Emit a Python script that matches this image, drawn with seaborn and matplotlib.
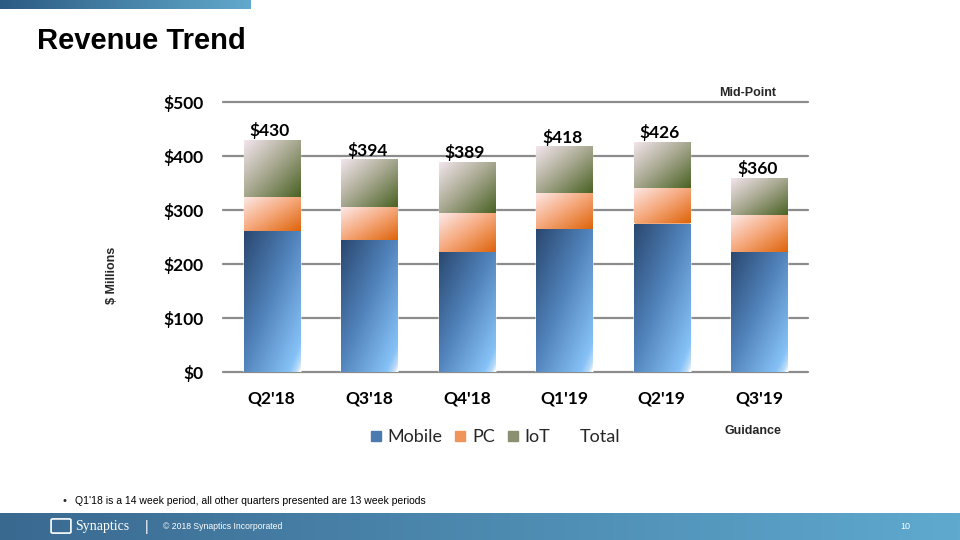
import numpy as np
import matplotlib
matplotlib.use("Agg")
import matplotlib.pyplot as plt
import seaborn as sns
from matplotlib.colors import LinearSegmentedColormap
from matplotlib.lines import Line2D
from matplotlib.patches import FancyBboxPatch

# ---------------- data ----------------
quarters = ["Q2'18", "Q3'18", "Q4'18", "Q1'19", "Q2'19", "Q3'19"]
mobile = [261, 245, 223, 264, 275, 223]
pc = [63, 60, 71, 68, 65, 68]
iot = [106, 89, 95, 86, 86, 69]
totals = [430, 394, 389, 418, 426, 360]
total_labels = ["$430", "$394", "$389", "$418", "$426", "$360"]
yticks = [0, 100, 200, 300, 400, 500]
ytick_labels = ["$0", "$100", "$200", "$300", "$400", "$500"]
legend_labels = ["Mobile", "PC", "IoT", "Total"]

sns.set_theme(style="white")
plt.rcParams["font.family"] = ["Lato", "DejaVu Sans"]

ARIAL = ["Liberation Sans", "DejaVu Sans"]

fig = plt.figure(figsize=(9.6, 5.4), dpi=100)
fig.patch.set_facecolor("white")


def hgrad_axes(rect, c0, c1):
    a = fig.add_axes(rect)
    g = np.linspace(0, 1, 256)[None, :]
    cm = LinearSegmentedColormap.from_list("b", [c0, c1])
    a.imshow(cm(g), aspect="auto", extent=(0, 1, 0, 1), interpolation="bilinear")
    a.set_axis_off()
    return a


# top banner and footer
hgrad_axes([0, 1 - 9 / 540, 250 / 960, 9 / 540], "#2c5b82", "#62a9cd")
hgrad_axes([0, 0, 1, 27 / 540], "#3a6990", "#5fa9cf")

# ---------------- main chart ----------------
ax = fig.add_axes([223 / 960, 1 - 372 / 540, 585 / 960, 270 / 540])

mp = [m + p for m, p in zip(mobile, pc)]
W = 0.575
sns.barplot(x=quarters, y=totals, color="#8a9070", width=W, saturation=1, ax=ax, zorder=2)
sns.barplot(x=quarters, y=mp, color="#f0955a", width=W, saturation=1, ax=ax, zorder=2)
sns.barplot(x=quarters, y=mobile, color="#4a7ab0", width=W, saturation=1, ax=ax, zorder=2)

cm_mobile = LinearSegmentedColormap.from_list(
    "m", [(0, "#2a4870"), (0.45, "#4f80b8"), (0.9, "#86c2f7"), (0.965, "#bcdcf8"), (1, "#ffffff")])
cm_pc = LinearSegmentedColormap.from_list(
    "p", [(0, "#fde9e8"), (0.5, "#f5a77a"), (1, "#de640a")])
cm_iot = LinearSegmentedColormap.from_list(
    "i", [(0, "#f4e6ee"), (0.5, "#a6a78e"), (1, "#4a6224")])


def grad_fill(patch, y0, y1, cmap):
    x0 = patch.get_x()
    x1 = x0 + patch.get_width()
    n = 96
    u = np.linspace(0, 1, n)[None, :]
    v = np.linspace(0, 1, n)[:, None]
    t = (u + v) / 2.0
    im = ax.imshow(cmap(t), extent=(x0, x1, y0, y1), origin="upper",
                   aspect="auto", interpolation="bilinear", zorder=3)
    im.set_clip_path(patch)


c_tot, c_mp, c_mob = ax.containers[0], ax.containers[1], ax.containers[2]
for i in range(len(quarters)):
    grad_fill(c_mob[i], 0, mobile[i], cm_mobile)
    grad_fill(c_mp[i], mobile[i], mp[i], cm_pc)
    grad_fill(c_tot[i], mp[i], totals[i], cm_iot)

ax.set_xlim(-0.5, len(quarters) - 0.5)
ax.set_ylim(0, 500)
ax.set_yticks(yticks)
ax.set_yticklabels(ytick_labels)
for s in ax.spines.values():
    s.set_visible(False)
ax.yaxis.grid(True, color="#8c8c8c", lw=1.6)
ax.xaxis.grid(False)
ax.set_axisbelow(True)
for gl in ax.get_ygridlines():
    gl.set_clip_on(False)
ax.tick_params(axis="y", length=0, pad=14, labelsize=12.5)
ax.tick_params(axis="x", length=0, pad=13, labelsize=12.5)
for lab in ax.get_yticklabels() + ax.get_xticklabels():
    lab.set_fontweight("bold")
    lab.set_color("black")
ax.set_xlabel("")
ax.set_ylabel("")

for i, (tot, lbl) in enumerate(zip(totals, total_labels)):
    ax.annotate(lbl, (i, tot), xytext=(-1.5, 2.5), textcoords="offset points",
                ha="center", va="baseline", fontsize=12.5, fontweight="bold",
                color="black", zorder=5)

fig.text(112 / 960, 1 - 275 / 540, "$ Millions", rotation=90, ha="center", va="center",
         fontsize=9, fontweight="bold", family=ARIAL)
fig.text(748 / 960, 1 - 93 / 540, "Mid-Point", ha="center", va="center",
         fontsize=9, fontweight="bold", family=ARIAL)
fig.text(753 / 960, 1 - 431 / 540, "Guidance", ha="center", va="center",
         fontsize=9, fontweight="bold", family=ARIAL)

# legend
handles = [
    Line2D([], [], ls="", marker="s", markersize=7, color="#4a7ab0"),
    Line2D([], [], ls="", marker="s", markersize=7, color="#f0955a"),
    Line2D([], [], ls="", marker="s", markersize=7, color="#8a9070"),
    Line2D([], [], ls="", marker=None),
]
fig.legend(handles, legend_labels, loc="center", bbox_to_anchor=(495 / 960, 1 - 437 / 540),
           ncol=4, frameon=False, fontsize=13, handletextpad=0.3, columnspacing=0.65,
           handlelength=0.7)

# title
fig.text(37 / 960, 1 - 41 / 540, "Revenue Trend", ha="left", va="center",
         fontsize=21, fontweight="bold", family=ARIAL, color="black")

# footnote
fig.text(62 / 960, 1 - 501 / 540, "\u2022", ha="left", va="center", fontsize=8, family=ARIAL)
fig.text(75 / 960, 1 - 501 / 540,
         "Q1'18 is a 14 week period, all other quarters presented are 13 week periods",
         ha="left", va="center", fontsize=7.5, family=ARIAL, color="black")

# footer content
logo = FancyBboxPatch((53 / 960, 8 / 540), 16 / 960, 12 / 540,
                      boxstyle="round,pad=0.002", transform=fig.transFigure,
                      fill=False, ec="white", lw=1.2)
fig.patches.append(logo)
fig.text(75 / 960, 13.5 / 540, "Synaptics", ha="left", va="center", fontsize=10,
         family=["Liberation Serif", "DejaVu Serif"], color="white")
fig.text(147 / 960, 13.5 / 540, "|", ha="center", va="center", fontsize=10,
         family=ARIAL, color="white")
fig.text(163 / 960, 13.5 / 540, "\u00a9 2018 Synaptics Incorporated", ha="left", va="center",
         fontsize=6.2, family=ARIAL, color="white")
fig.text(905 / 960, 13.5 / 540, "10", ha="center", va="center", fontsize=6.5,
         family=ARIAL, color="white")

fig.savefig("out.png", dpi=100)
